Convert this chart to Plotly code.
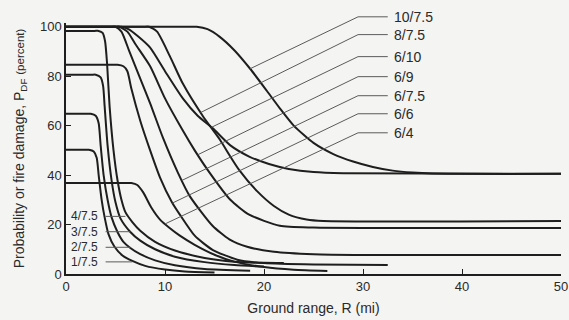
import numpy as np
import plotly.graph_objects as go

# ---- curve data (ground range R in mi, probability in percent) ----
x_10_75 = [0, 12.4, 13.2, 14.3, 15.5, 17.0, 18.6, 20.3, 21.6, 23.0, 25.0, 27.0, 29.0, 31.0, 33.0, 35.0, 37.0, 50]
y_10_75 = [100, 100, 100, 99, 96, 90.5, 83, 74, 67, 60, 53, 48.5, 45.5, 43.3, 41.8, 41, 40.6, 40.5]

x_8_75 = [0, 7.8, 8.4, 9.2, 10.5, 11.8, 13.8, 15.6, 16.6, 17.5, 19.3, 21.0, 22.5, 24.3, 26.0, 50]
y_8_75 = [100, 100, 100, 98, 88, 77, 64, 54, 47.5, 42, 33.5, 27.5, 24, 22, 21.4, 21.4]

x_6_10 = [0, 5.0, 5.6, 6.3, 7.3, 8.5, 10.0, 11.8, 13.3, 14.8, 16.6, 18.5, 20.5, 22.5, 25.0, 28.0, 50]
y_6_10 = [100, 100, 100, 99, 96, 91.5, 82, 71, 64, 59, 52, 47.5, 44.5, 42.5, 41.2, 40.7, 40.5]

x_6_9 = [0, 4.9, 5.4, 6.2, 7.0, 8.5, 10.0, 11.8, 13.0, 14.5, 16.6, 18.5, 21.6, 25.0, 50]
y_6_9 = [100, 100, 100, 98, 93, 84, 71, 58, 50, 41, 30, 24, 19.5, 18.8, 18.6]

x_6_75 = [0, 4.5, 5.0, 5.6, 6.4, 7.5, 8.5, 9.8, 11.3, 12.5, 14.8, 16.5, 18.3, 21.0, 25.0, 30.0, 50]
y_6_75 = [100, 100, 100, 98, 90, 79, 69, 55, 41, 31.5, 19.5, 14, 11, 9, 8, 7.7, 7.7]

x_6_6 = [0, 4.8, 5.2, 5.8, 6.2, 6.6, 7.5, 8.5, 9.5, 10.7, 11.5, 13.0, 14.8, 17.3, 20.0, 25.0, 32.5]
y_6_6 = [84.6, 84.6, 84.6, 84, 82, 75, 62, 50, 39, 29, 24, 15.5, 9.8, 5.8, 4.4, 3.8, 3.6]

x_6_4 = [0, 6.1, 6.6, 7.2, 7.8, 8.6, 9.5, 10.5, 11.5, 13.0, 15.0, 17.0, 20.0, 23.0, 26.4]
y_6_4 = [36.8, 36.8, 36.8, 36, 33, 27, 22, 18.5, 15.5, 11.8, 7.8, 5, 2.8, 1.7, 1.2]

x_4_75 = [0, 2.9, 3.3, 3.7, 3.95, 4.15, 4.4, 4.8, 5.2, 5.6, 6.0, 6.7, 7.5, 9.0, 11.0, 14.0, 17.0, 20.0, 22.0]
y_4_75 = [98.3, 98.3, 98.3, 97.5, 94, 85, 68, 50, 38, 30, 25, 21, 17.5, 13, 9.5, 6.5, 5, 4.5, 4.4]

x_3_75 = [0, 2.6, 3.0, 3.5, 3.75, 3.9, 4.2, 4.6, 5.0, 5.5, 6.5, 7.5, 9.0, 11.0, 14.0, 17.0, 20.0]
y_3_75 = [80.6, 80.6, 80.6, 79.5, 76, 68, 52, 38, 29, 22.5, 17, 13.5, 10, 7, 4.8, 3.6, 3.0]

x_2_75 = [0, 2.1, 2.5, 3.0, 3.3, 3.5, 3.8, 4.2, 4.6, 5.2, 5.8, 6.5, 7.5, 9.0, 11.0, 14.0, 18.6]
y_2_75 = [64.8, 64.8, 64.8, 64, 61, 52, 40, 30, 23, 17, 13, 10.5, 8, 5.5, 3.5, 2.0, 1.3]

x_1_75 = [0, 1.9, 2.3, 2.8, 3.1, 3.3, 3.6, 3.9, 4.3, 4.9, 5.7, 6.7, 8.0, 10.0, 12.0, 15.0]
y_1_75 = [50.2, 50.2, 50.2, 49.5, 47, 40, 30, 23, 16, 11, 7.5, 5.3, 3.3, 1.8, 1.0, 0.6]

x_ticks = [0, 10, 20, 30, 40, 50]
y_ticks = [0, 20, 40, 60, 80, 100]

# right-hand labels: text, label height, x where leader meets its curve
right_labels = ["10/7.5", "8/7.5", "6/10", "6/9", "6/7.5", "6/6", "6/4"]
right_label_y = [104.0, 96.8, 87.9, 79.8, 72.1, 64.8, 57.1]
right_leader_x = [18.6, 13.6, 14.7, 13.3, 11.7, 10.75, 10.0]

# left-hand labels
left_labels = ["4/7.5", "3/7.5", "2/7.5", "1/7.5"]
left_label_y = [23.3, 17.1, 10.8, 4.9]
left_leader_x = [6.0, 6.5, 6.5, 6.7]

curves = {
    "10/7.5": (x_10_75, y_10_75),
    "8/7.5": (x_8_75, y_8_75),
    "6/10": (x_6_10, y_6_10),
    "6/9": (x_6_9, y_6_9),
    "6/7.5": (x_6_75, y_6_75),
    "6/6": (x_6_6, y_6_6),
    "6/4": (x_6_4, y_6_4),
    "4/7.5": (x_4_75, y_4_75),
    "3/7.5": (x_3_75, y_3_75),
    "2/7.5": (x_2_75, y_2_75),
    "1/7.5": (x_1_75, y_1_75),
}

X_MAX = 50.0
Y_MAX = 101.5

def px(v):
    return v / X_MAX

def py(v):
    return v / Y_MAX

INK = "#1e1e1e"
LEAD = "#5a5a5a"
TXT = "#2a2a2a"
FONT = "Liberation Sans, Arial, Helvetica, sans-serif"

fig = go.Figure()

for name, (xs, ys) in curves.items():
    fig.add_trace(go.Scatter(
        x=xs, y=ys, mode="lines", name=name,
        line=dict(color=INK, width=2, shape="spline", smoothing=0.6),
        hoverinfo="skip", showlegend=False))

shapes = []
# leader lines and labels on the right
for lab, ly, ex in zip(right_labels, right_label_y, right_leader_x):
    cx, cy = curves[lab]
    ey = float(np.interp(ex, cx, cy))
    shapes.append(dict(type="line", xref="paper", yref="paper",
                       x0=px(ex), y0=py(ey), x1=px(29.5), y1=py(ly),
                       line=dict(color=LEAD, width=1)))
    shapes.append(dict(type="line", xref="paper", yref="paper",
                       x0=px(29.5), y0=py(ly), x1=px(32.5), y1=py(ly),
                       line=dict(color=LEAD, width=1)))
    fig.add_annotation(x=px(32.9), y=py(ly), xref="paper", yref="paper", text=lab,
                       showarrow=False, xanchor="left", yanchor="middle",
                       font=dict(family=FONT, size=14, color=TXT))

# leader lines and labels on the left
for lab, ly, ex in zip(left_labels, left_label_y, left_leader_x):
    shapes.append(dict(type="line", xref="paper", yref="paper",
                       x0=px(4.0), y0=py(ly), x1=px(ex), y1=py(ly),
                       line=dict(color=LEAD, width=1)))
    fig.add_annotation(x=px(0.3), y=py(ly), xref="paper", yref="paper", text=lab,
                       showarrow=False, xanchor="left", yanchor="middle",
                       font=dict(family=FONT, size=12, color=TXT))

fig.update_xaxes(range=[0, X_MAX], tickvals=x_ticks, ticks="inside", ticklen=5,
                 tickwidth=1, tickcolor=INK, showline=True, linecolor=INK,
                 linewidth=1.5, showgrid=False, zeroline=False, automargin=False,
                 tickfont=dict(family=FONT, size=13, color=TXT),
                 title=dict(text="Ground range, R (mi)", standoff=10,
                            font=dict(family=FONT, size=14, color=TXT)))
fig.update_yaxes(range=[0, Y_MAX], tickvals=y_ticks, ticks="inside", ticklen=5,
                 tickwidth=1, tickcolor=INK, showline=True, linecolor=INK,
                 linewidth=1.5, showgrid=False, zeroline=False, automargin=False,
                 tickfont=dict(family=FONT, size=13, color=TXT),
                 title=dict(text="Probability or fire damage, P<sub>DF</sub> <span style='font-size:11.5px'>(percent)</span>",
                            standoff=12,
                            font=dict(family=FONT, size=14, color=TXT)))

fig.update_layout(width=569, height=320,
                  margin=dict(l=66, r=8, t=23, b=46),
                  paper_bgcolor="#f4f4f2", plot_bgcolor="#f4f4f2",
                  shapes=shapes, showlegend=False)

# remove the browser's default 8px body margin so the figure fills the window exactly
fig.write_html("out.html", config={"displayModeBar": False},
               post_script="document.body.style.margin='0';document.body.style.overflow='hidden';")
